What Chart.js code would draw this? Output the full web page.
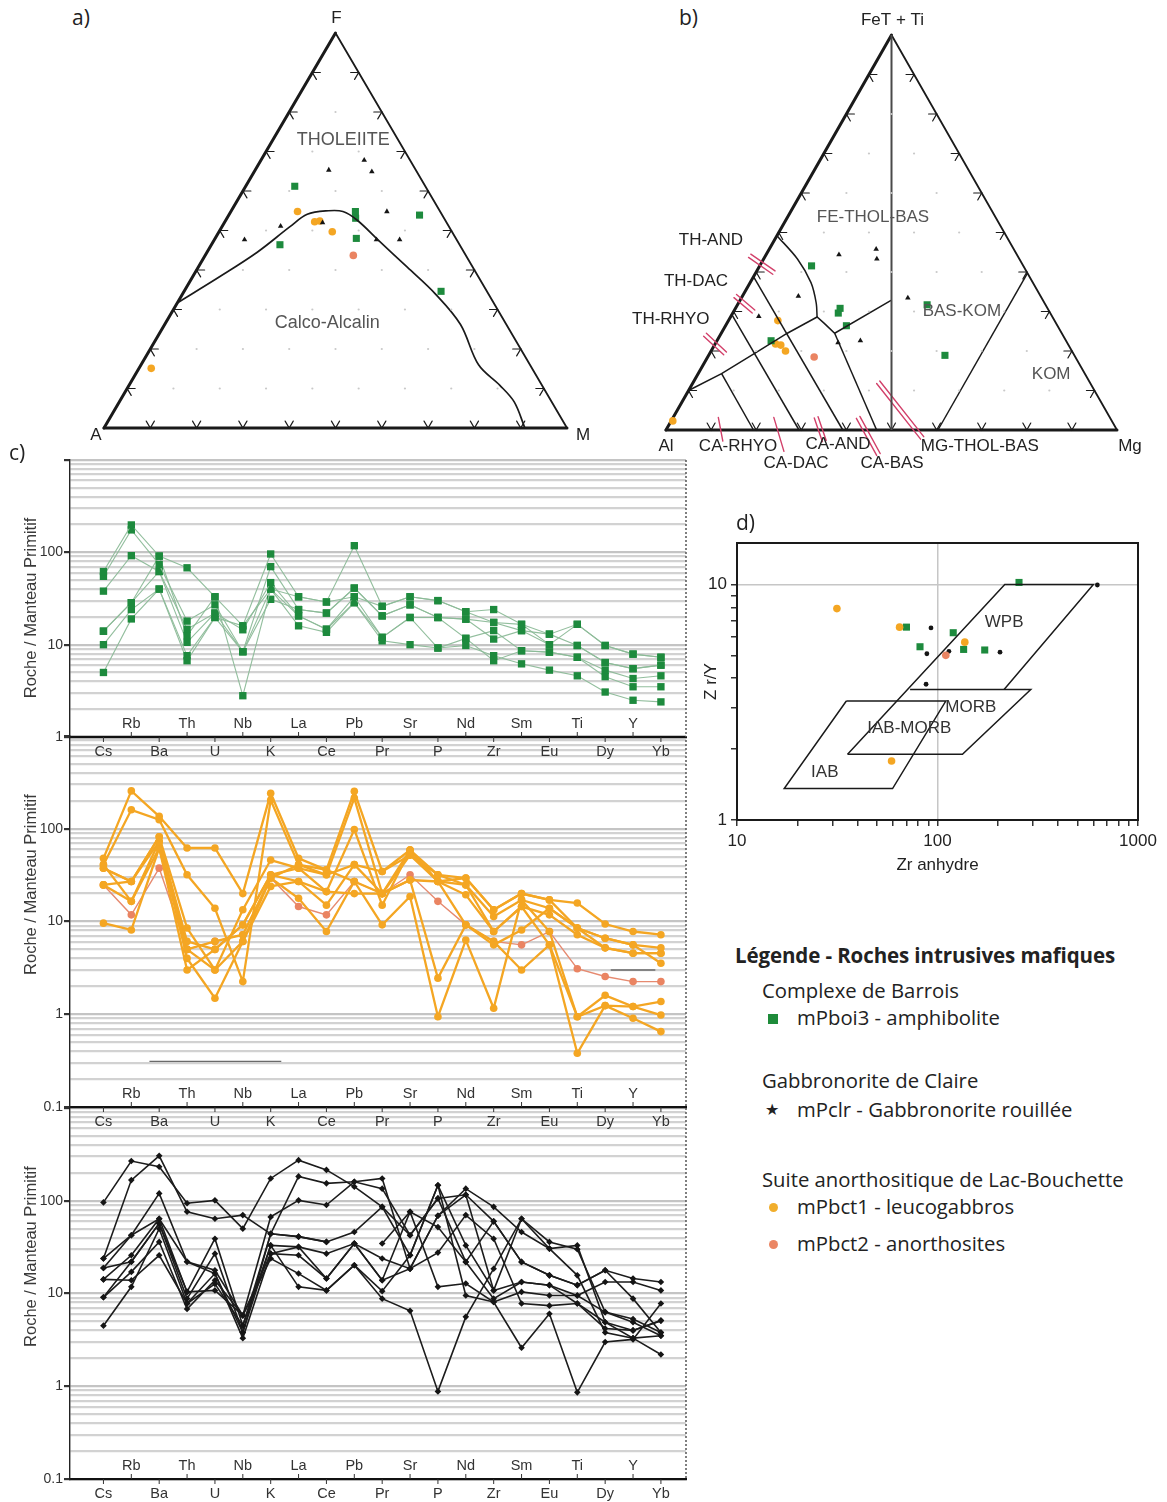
<!DOCTYPE html>
<html lang="fr">
<head>
<meta charset="utf-8">
<title>Roches intrusives mafiques – diagrammes géochimiques</title>
<script src="https://cdn.jsdelivr.net/npm/chart.js@4.4.1/dist/chart.umd.min.js"></script>
<style>
  html, body { margin: 0; padding: 0; background: #fff; }
  body { position: relative; width: 1167px; height: 1502px; overflow: hidden; }
  canvas { position: absolute; }
  .txt { position: absolute; white-space: nowrap; color: #222; font-family: "Open Sans", "Noto Sans", sans-serif; }
  .panel { font-size: 21px; line-height: 26px; }
  .leg-title { font-weight: 700; font-size: 20.5px; line-height: 26px; letter-spacing: -0.1px; }
  .leg { font-size: 20.3px; line-height: 26px; }
  .mk { position: absolute; }
</style>
</head>
<body>
<canvas id="spider3" width="700" height="414" style="left:0;top:1088px;z-index:1"></canvas>
<canvas id="spider2" width="700" height="424" style="left:0;top:716px;z-index:2"></canvas>
<canvas id="spider1" width="700" height="330" style="left:0;top:440px;z-index:3"></canvas>
<canvas id="afm" width="560" height="460" style="left:60px;top:0;z-index:4"></canvas>
<canvas id="jensen" width="547" height="480" style="left:620px;top:0;z-index:4"></canvas>
<canvas id="zry" width="477" height="380" style="left:690px;top:500px;z-index:4"></canvas>

<div class="txt panel" style="left:72px;top:4px">a)</div>
<div class="txt panel" style="left:679px;top:4px">b)</div>
<div class="txt panel" style="left:9px;top:439px;z-index:5">c)</div>
<div class="txt panel" style="left:736px;top:509px;z-index:5">d)</div>

<div class="txt leg-title" style="left:735px;top:942px">Légende - Roches intrusives mafiques</div>
<div class="txt leg" style="left:762px;top:977px">Complexe de Barrois</div>
<div class="mk" style="left:768px;top:1014px;width:10px;height:10px;background:#1e8b3a"></div>
<div class="txt leg" style="left:797px;top:1004px">mPboi3 - amphibolite</div>
<div class="txt leg" style="left:762px;top:1067px">Gabbronorite de Claire</div>
<div class="txt" style="left:765px;top:1099px;font-family:'DejaVu Sans';font-size:16px;line-height:22px">★</div>
<div class="txt leg" style="left:797px;top:1096px">mPclr - Gabbronorite rouillée</div>
<div class="txt leg" style="left:762px;top:1166px">Suite anorthositique de Lac-Bouchette</div>
<div class="mk" style="left:769px;top:1203px;width:9px;height:9px;border-radius:50%;background:#f1ae2c"></div>
<div class="txt leg" style="left:797px;top:1193px">mPbct1 - leucogabbros</div>
<div class="mk" style="left:769px;top:1240px;width:9px;height:9px;border-radius:50%;background:#eb8664"></div>
<div class="txt leg" style="left:797px;top:1230px">mPbct2 - anorthosites</div>

<script>
// ---------------------------------------------------------------
// Multi-element spider diagrams (rock / primitive mantle)
// ---------------------------------------------------------------
const ELEMENTS = ['Cs','Rb','Ba','Th','U','Nb','K','La','Ce','Pb','Pr','Sr','P','Nd','Zr','Sm','Eu','Ti','Dy','Y','Yb'];
const SPIDER_LABELS = [0.1, 1, 10, 100];

// mPboi3 - amphibolite (Complexe de Barrois)
const barroisSpider = [
  [62, 198, 91, 68, 33, 16, 96, 33, 29, 118, 26, 33, 30, 22.7, 24, 16.6, 13, 16.6, 9.8, 7.9, 7.3],
  [55, 175, 74, 18, 27, 8.4, 70, 24, 22, 41, 20.5, 27, 19.7, 18.9, 17.4, 14.2, 10, 9.8, 6.4, 5.5, 6.0],
  [38, 92, 62, 14.7, 22, 14.5, 47, 20.5, 14.7, 33, 12, 19.7, 19.7, 11.7, 14.2, 8.6, 8.3, 7.3, 5.3, 4.3, 4.6],
  [14, 28.5, 91, 12.5, 33, 2.8, 40, 16, 13.6, 28.5, 11, 10, 9.2, 9.8, 7.6, 6.2, 5.3, 4.6, 3.07, 2.5, 2.4],
  [10, 24, 40, 7.6, 19.7, 8.4, 31, 24, 22, 41, 20.5, 27, 19.7, 18.9, 11.5, 14.2, 13, 9.8, 6.4, 5.5, 6.0],
  [5, 19, 40, 6.7, 19.7, 16, 40, 33, 29, 33, 26, 33, 30, 22.7, 17.4, 16.6, 10, 16.6, 9.8, 7.9, 7.3],
  [14, 28.5, 62, 10.6, 22, 8.4, 40, 20.5, 14.7, 28.5, 12, 19.7, 9.2, 11.7, 6.7, 8.6, 8.3, 7.3, 4.5, 3.5, 3.5]
];

// mPbct1 - leucogabbros (Suite anorthositique de Lac-Bouchette)
const leucogabbroSpider = [
  [48, 256, 136, 62, 62, 20, 241, 48, 36, 253, 34.6, 59, 31.9, 29.4, 13.4, 20, 17.1, 15.8, 9.4, 7.8, 7.2],
  [41, 160, 125, 31.9, 13.9, 2.25, 204, 41, 31.9, 214, 20, 52, 27, 24.8, 11.3, 17.1, 13.9, 8.5, 6.6, 5.6, 5.2],
  [37.5, 27, 82, 8.5, 3.0, 13.4, 46, 37.6, 21, 98, 15, 59, 27, 19.4, 7.8, 14.5, 11.8, 7.2, 5.2, 4.55, 4.55],
  [24.8, 16.5, 73, 6.1, 5.0, 9.2, 31.9, 27, 15, 41, 20, 28, 2.45, 9.2, 5.6, 8.1, 13.9, 8.5, 6.6, 5.6, 3.55],
  [9.6, 8.1, 62, 5.0, 6.1, 7.2, 29.4, 17.8, 7.8, 27, 9.2, 18.6, 0.94, 6.3, 1.16, 17.1, 7.8, 0.94, 1.6, 1.21, 1.37],
  [24.8, 27, 73, 4.0, 1.49, 6.1, 23.9, 27, 21, 20, 20, 28, 27, 9.2, 6.1, 3.0, 5.6, 0.38, 1.24, 0.905, 0.65],
  [41, 16.5, 62, 3.0, 5.0, 9.2, 31.9, 37.6, 31.9, 41, 34.6, 52, 31.9, 24.8, 7.8, 14.5, 5.6, 0.94, 1.24, 1.21, 0.98],
  [37.5, 27, 82, 5.0, 3.0, 6.1, 29.4, 41, 36, 27, 20, 59, 27, 29.4, 13.4, 20, 17.1, 8.5, 5.2, 4.55, 4.55]
];

// mPbct2 - anorthosites
const anorthositeSpider = [
  [24.8, 11.8, 37.6, 5.0, 6.1, 7.2, 29.4, 14.5, 11.8, 27, 20, 31.9, 16.5, 9.2, 6.1, 5.6, 7.8, 3.1, 2.55, 2.25, 2.25]
];

// thin grey rules drawn across the leucogabbro panel (element index, value)
const leucoRules = [
  [[1.65, 0.31], [6.38, 0.31]],
  [[18.2, 3.0], [19.8, 3.0]]
];

// mPclr - Gabbronorite rouillée (Gabbronorite de Claire)
const claireSpider = [
  [96, 268, 233, 94, 101, 50, 174, 274, 215, 142, 86, 25.8, 147, 33, 10.8, 64, 36, 30, 6.3, 5.3, 3.8],
  [23.8, 167, 305, 76, 64, 70, 44, 183, 154, 160, 174, 18.5, 69, 135, 86, 46, 30.5, 33, 4.9, 3.3, 3.5],
  [18.8, 42.5, 120, 22, 17.8, 5.8, 67, 101, 90, 160, 135, 42.5, 106, 116, 60, 21.9, 15.7, 12.3, 17.8, 14.5, 13.3],
  [14.2, 25.8, 64, 10.4, 39, 4.5, 44, 41, 36, null, 34.6, 76, 52, 21.9, 8.8, 13.3, 12.3, 9.5, 13.3, 13.3, 10.8],
  [9.1, 22, 57, 8.8, 26.9, 3.8, 33, 31.8, 26.9, 34.6, 23.8, 18.5, 27.6, 70, 39, 7.8, 7.4, 7.8, 4.2, 4.0, 5.1],
  [4.5, 11.8, 50, 7.8, 16.4, 3.3, 26.9, 25.8, 14.5, 34.6, 13.9, 76, 11.8, 12.8, 8.1, 2.6, 6.05, 0.86, 3.0, 3.2, 7.8],
  [9.1, 17.1, 36, 6.8, 13.9, 5.8, 23.8, 16.4, 10.8, 20.2, 8.8, 6.5, 0.88, 5.6, 18.5, 64, 30.5, 15.7, 3.8, 3.3, 2.2],
  [14.2, 13.9, 25.8, 7.8, 12.7, 4.5, 33, 11.8, 10.8, 20.2, 10.6, 25.8, 147, 9.5, 8.1, 10.4, 9.5, 9.5, 6.3, 4.9, 3.5],
  [18.8, 22, 57, 10.4, 10.8, 5.8, 26.9, 31.8, 14.5, 34.6, 13.9, 18.5, 69, 116, 10.8, 13.3, 12.3, 7.8, 4.9, 4.0, 5.1],
  [23.8, 42.5, 64, 22, 16.4, 3.8, 44, 41, 36, 46, 86, 42.5, 106, 21.9, 60, 21.9, 15.7, 12.3, 17.8, 8.8, 3.8]
];

// ---------------------------------------------------------------
// AFM ternary (A, F, M in %)
// ---------------------------------------------------------------
const afmBarrois = [[28.2,61.2,10.6],[18.3,54.8,26.9],[19.1,53.1,27.8],[4.9,53.9,41.2],[21.5,48.0,30.5],[38.8,46.4,14.8],[9.9,34.6,55.5]];
const afmClaire = [[9.9,67.8,22.3],[18.8,65.3,15.9],[9.7,64.9,25.4],[11.5,54.8,33.7],[36.3,51.1,12.6],[45.8,47.7,6.5],[17.3,47.7,35.0],[12.3,47.7,40.0],[26.8,52.0,21.2]];
const afmLeuco = [[30.8,54.8,14.4],[28.4,52.2,19.4],[27.2,52.4,20.4],[25.85,49.7,24.45],[82.25,15.1,2.65]];
const afmAnor = [[24.3,43.7,32.0]];
const afmBoundary = [[68.3,31.7,0],[56.25,38.1,5.65],[44.65,44.5,10.85],[34.45,50.9,14.65],[29.05,54.1,16.85],[24.0,55.0,21.0],[21.0,54.8,24.2],[19.0,52.6,28.4],[16.95,47.5,35.55],[14.15,40.7,45.15],[11.45,33.9,54.65],[9.9,26.2,63.9],[11.1,16.0,72.9],[9.1,10.8,80.1],[8.1,6.6,85.3],[9.1,0,90.9]];

// ---------------------------------------------------------------
// Jensen cation plot (Al, FeT+Ti, Mg in %)
// ---------------------------------------------------------------
const jenBarrois = [[46.95,41.55,11.5],[47.0,29.6,23.4],[46.0,30.8,23.2],[46.8,26.4,26.8],[65.4,22.6,12.0],[26.25,31.7,42.05],[28.7,18.9,52.4]];
const jenClaire = [[39.45,44.4,16.15],[30.5,45.8,23.7],[31.6,43.3,25.1],[53.7,33.9,12.4],[65.05,28.75,6.2],[29.65,33.45,36.9],[45.6,22.6,31.8],[50.8,22.1,27.1]];
const jenLeuco = [[61.35,27.7,10.95],[64.8,21.8,13.4],[63.8,21.5,14.7],[63.5,20.0,16.5],[97.35,2.3,0.35]];
const jenAnor = [[57.9,18.5,23.6]];
const jenVertical = [[0,100,0],[50,0,50]];
const jenThCa = [[90,10,0],[80.55,14.25,5.2],[69.9,19.8,10.3],[60.85,24.5,14.65],[52.2,28.6,19.2],[51.4,27.0,21.6],[50.35,24.5,25.15],[33.7,32.8,33.5]];
const jenFeThol = [[50.8,49.2,0],[49.2,43.3,7.5],[49.2,37.3,13.5],[50.6,32.2,17.2],[52.2,28.6,19.2]];
const jenAnd = [[61.2,38.8,0],[60.8,0,39.2]];
const jenDac = [[70.8,29.2,0],[70.5,0,29.5]];
const jenRhyo = [[80.55,14.25,5.2],[80.6,0,19.4]];
const jenBas = [[50.35,24.5,25.15],[53.3,0,46.7]];
const jenKom = [[39.7,0,60.3],[0,39.7,60.3]];
// red leader strokes next to the field names: [start, end, strokes]
const jenLeaders = [
  [[59.4,44.1,-3.5],[56.15,39.85,4.0],2],
  [[67.7,33.9,-1.6],[65.6,30.0,4.4],2],
  [[79.3,24.1,-3.4],[77.2,19.4,3.4],2],
  [[86.8,3.2,10.0],[88.8,-2.8,14.0],1],
  [[74.5,3.2,22.3],[76.55,-5.4,28.85],1],
  [[65.1,3.2,31.7],[66.3,-2.8,36.5],2],
  [[55.8,3.2,41.0],[56.0,-6.2,50.2],2],
  [[46.9,12.1,41.0],[44.2,-2.0,57.8],2]
];

// ---------------------------------------------------------------
// Zr/Y vs Zr (anhydrous)
// ---------------------------------------------------------------
const zrBarrois = [[70,6.59],[119.8,6.24],[81.8,5.44],[135,5.3],[172,5.27],[255,10.2]];
const zrClaire = [[92.8,6.54],[88.5,5.08],[205,5.16],[87.7,3.77],[627,9.95],[114,5.2]];
const zrLeuco = [[31.5,7.9],[64.7,6.59],[136.8,5.69],[59,1.78]];
const zrAnor = [[110,5.0]];
const fieldWPB = [[35.6,1.90],[216.5,10],[599,10],[214.8,3.58]];
const fieldMORB = [[73,3.58],[291.8,3.58],[133.2,1.90],[35.6,1.90]];
const fieldIAB = [[35.1,3.2],[110,3.2],[59.7,1.36],[17.2,1.36],[35.1,3.2]];

// ---------------------------------------------------------------
Chart.defaults.font.family = '"Liberation Sans", Arial, sans-serif';
Chart.defaults.color = '#333';

const STYLE = {
  barrois: { color: '#1d8a3d' },
  claire:  { color: '#151515' },
  leuco:   { color: '#f4a623' },
  anor:    { color: '#ea8462' }
};

function decadeTicks(min, max) {
  const out = [];
  for (let e = Math.floor(Math.log10(min)); e <= Math.ceil(Math.log10(max)); e++) {
    for (let m = 1; m < 10; m++) {
      const v = Number((m * Math.pow(10, e)).toPrecision(6));
      if (v >= min * 0.999 && v <= max * 1.001) out.push(v);
    }
  }
  return out;
}
const isDecade = v => Math.abs(Math.log10(v) - Math.round(Math.log10(v))) < 1e-6;

// element names in two staggered rows, small ticks, dashed right frame, axis title
const spiderDecor = {
  id: 'spiderDecor',
  afterDraw(chart, args, o) {
    const { ctx, chartArea: { top, bottom, right }, scales: { x, y } } = chart;
    ctx.save();
    ctx.strokeStyle = '#555';
    ctx.lineWidth = 1.5;
    ctx.setLineDash([2, 2]);
    ctx.beginPath(); ctx.moveTo(right, top); ctx.lineTo(right, bottom); ctx.stroke();
    ctx.setLineDash([]);
    ctx.font = '14.5px "Liberation Sans", Arial, sans-serif';
    ctx.textAlign = 'center';
    ctx.textBaseline = 'middle';
    ELEMENTS.forEach((el, i) => {
      const px = x.getPixelForValue(i);
      const upper = i % 2 === 1;
      ctx.strokeStyle = '#333';
      ctx.lineWidth = 1;
      ctx.beginPath(); ctx.moveTo(px, bottom); ctx.lineTo(px, bottom + (upper ? -5 : 5)); ctx.stroke();
      ctx.fillStyle = '#333';
      ctx.fillText(el, px, upper ? bottom - 13 : bottom + 15);
    });
    ctx.translate(o.titleX, y.getPixelForValue(o.titleAt));
    ctx.rotate(-Math.PI / 2);
    ctx.font = '16.5px "Liberation Sans", Arial, sans-serif';
    ctx.fillStyle = '#3a3a3a';
    ctx.fillText(o.title, 0, 0);
    ctx.restore();
  }
};

function spider(id, opt) {
  const datasets = [];
  opt.groups.forEach(g => g.samples.forEach(vals => datasets.push({
    data: vals.map((v, i) => ({ x: i, y: v })),
    showLine: true, spanGaps: false, clip: false,
    borderColor: g.line, borderWidth: g.lineWidth,
    pointStyle: g.pointStyle, pointRadius: g.radius,
    pointBackgroundColor: g.color, pointBorderColor: g.color, pointBorderWidth: 0
  })));
  (opt.rules || []).forEach(r => datasets.push({
    data: r.map(([xv, yv]) => ({ x: xv, y: yv })),
    showLine: true, borderColor: '#6a6a6a', borderWidth: 1.3, pointRadius: 0, clip: false
  }));
  return new Chart(document.getElementById(id), {
    type: 'scatter',
    data: { datasets },
    options: {
      responsive: false, animation: false, events: [],
      layout: { padding: { top: 20, right: 14, left: 0, bottom: 0 }, autoPadding: false },
      plugins: {
        legend: { display: false }, tooltip: { enabled: false },
        spiderDecor: { title: 'Roche / Manteau Primitif', titleAt: 25, titleX: 31 }
      },
      scales: {
        x: {
          type: 'linear', min: -1.2, max: 20.9,
          afterBuildTicks: s => { s.ticks = ELEMENTS.map((_, i) => ({ value: i })); },
          afterFit: s => { s.height = opt.xHeight; },
          ticks: { display: false },
          grid: { display: false },
          border: { color: '#111', width: 2.2 }
        },
        y: {
          type: 'logarithmic', min: opt.min, max: opt.max,
          afterBuildTicks: s => { s.ticks = decadeTicks(opt.min, opt.max).map(v => ({ value: v })); },
          afterFit: s => { s.width = 70; },
          border: { color: '#222', width: 1.4 },
          grid: {
            color: c => (c.tick && isDecade(c.tick.value)) ? '#c4c4c4' : '#d2d2d2',
            lineWidth: 2.2, tickLength: 6,
            tickColor: c => (c.tick && isDecade(c.tick.value)) ? '#333' : 'rgba(0,0,0,0)'
          },
          ticks: {
            autoSkip: false, padding: 1, color: '#333', font: { size: 14 },
            callback: v => SPIDER_LABELS.includes(v) ? String(v) : ''
          }
        }
      }
    },
    plugins: [spiderDecor]
  });
}

spider('spider1', {
  min: 1, max: 1000, xHeight: 33,
  groups: [{ samples: barroisSpider, line: 'rgba(140,186,152,0.95)', lineWidth: 1.1, pointStyle: 'rect', radius: 5.2, color: STYLE.barrois.color }]
});
spider('spider2', {
  min: 0.1, max: 1000, xHeight: 33,
  groups: [
    { samples: leucogabbroSpider, line: STYLE.leuco.color, lineWidth: 2.3, pointStyle: 'circle', radius: 3.8, color: STYLE.leuco.color },
    { samples: anorthositeSpider, line: '#e68a70', lineWidth: 1.4, pointStyle: 'circle', radius: 3.8, color: STYLE.anor.color }
  ],
  rules: leucoRules
});
spider('spider3', {
  min: 0.1, max: 1000, xHeight: 23,
  groups: [{ samples: claireSpider, line: '#1c1c1c', lineWidth: 1.6, pointStyle: 'rectRot', radius: 3.3, color: STYLE.claire.color }]
});

// ---------------------------------------------------------------
// Ternary diagrams
// ---------------------------------------------------------------
// [left, top, right] percentages -> unit-triangle coordinates
const toXY = p => ({ x: (p[2] + p[1] / 2) / 100, y: p[1] / 100 });

const LATTICE = [];
for (let t = 10; t <= 80; t += 10) {
  for (let r = 10; r <= 90 - t; r += 10) LATTICE.push([100 - t - r, t, r]);
}

const ternDecor = {
  id: 'ternDecor',
  beforeDatasetsDraw(chart, args, o) {
    const { ctx, scales: { x, y } } = chart;
    const P = (u, v) => [x.getPixelForValue(u), y.getPixelForValue(v)];
    const L = P(0, 0), R = P(1, 0), T = P(0.5, 1);
    ctx.save();
    ctx.lineCap = 'round';
    ctx.strokeStyle = '#1a1a1a';
    const edge = (a, b, w) => { ctx.lineWidth = w; ctx.beginPath(); ctx.moveTo(a[0], a[1]); ctx.lineTo(b[0], b[1]); ctx.stroke(); };
    edge(L, T, o.thick); edge(L, R, o.thick); edge(R, T, o.thin);
    // chevron ticks every 10 %
    const unit = (dx, dy) => { const n = Math.hypot(dx, dy); return [dx / n, dy / n]; };
    ctx.lineWidth = 1.2;
    const len = 8;
    [[L, T, R], [L, R, T], [R, T, L]].forEach(([p0, p1, q]) => {
      const d1 = unit(q[0] - p0[0], q[1] - p0[1]);
      const d2 = unit(q[0] - p1[0], q[1] - p1[1]);
      for (let k = 1; k < 10; k++) {
        const px = p0[0] + (p1[0] - p0[0]) * k / 10;
        const py = p0[1] + (p1[1] - p0[1]) * k / 10;
        ctx.beginPath();
        ctx.moveTo(px + d1[0] * len, py + d1[1] * len);
        ctx.lineTo(px, py);
        ctx.lineTo(px + d2[0] * len, py + d2[1] * len);
        ctx.stroke();
      }
    });
    // red leader strokes
    ctx.strokeStyle = '#d2406a';
    ctx.lineWidth = 1.4;
    (o.leaders || []).forEach(([a, b, n]) => {
      const pa = toXY(a), pb = toXY(b);
      const ax = x.getPixelForValue(pa.x), ay = y.getPixelForValue(pa.y);
      const bx = x.getPixelForValue(pb.x), by = y.getPixelForValue(pb.y);
      const [ux, uy] = unit(bx - ax, by - ay);
      const offs = n === 2 ? [-2, 2] : [0];
      offs.forEach(s => {
        ctx.beginPath();
        ctx.moveTo(ax - uy * s, ay + ux * s);
        ctx.lineTo(bx - uy * s, by + ux * s);
        ctx.stroke();
      });
    });
    ctx.restore();
  },
  afterDraw(chart, args, o) {
    const { ctx, scales: { x, y } } = chart;
    ctx.save();
    ctx.textAlign = 'center';
    ctx.textBaseline = 'middle';
    (o.labels || []).forEach(l => {
      const p = toXY(l.at);
      ctx.font = l.size + 'px "Liberation Sans", Arial, sans-serif';
      ctx.fillStyle = l.color;
      ctx.fillText(l.text, x.getPixelForValue(p.x), y.getPixelForValue(p.y));
    });
    const corners = { L: [0, 0], R: [1, 0], T: [0.5, 1] };
    (o.vertices || []).forEach(v => {
      const c = corners[v.at];
      ctx.font = '17px "Liberation Sans", Arial, sans-serif';
      ctx.fillStyle = '#222';
      ctx.fillText(v.text, x.getPixelForValue(c[0]) + v.dx, y.getPixelForValue(c[1]) + v.dy);
    });
    ctx.restore();
  }
};

function ternary(id, pad, lines, series, decor) {
  const datasets = [{
    data: LATTICE.map(toXY), pointRadius: 1.1, pointBackgroundColor: '#c9c9c9', pointBorderWidth: 0, clip: false
  }];
  lines.forEach(l => datasets.push({
    data: l.pts.map(toXY), showLine: true, borderColor: l.color || '#1a1a1a', borderWidth: l.width || 1.5,
    pointRadius: 0, tension: l.tension || 0, clip: false
  }));
  series.forEach(s => datasets.push({
    data: s.pts.map(toXY), pointStyle: s.style, pointRadius: s.r,
    pointBackgroundColor: s.color, pointBorderColor: s.color, pointBorderWidth: 0, clip: false
  }));
  return new Chart(document.getElementById(id), {
    type: 'scatter',
    data: { datasets },
    options: {
      responsive: false, animation: false, events: [],
      layout: { padding: pad, autoPadding: false },
      scales: {
        x: { type: 'linear', min: 0, max: 1, display: false },
        y: { type: 'linear', min: 0, max: 1, display: false }
      },
      plugins: { legend: { display: false }, tooltip: { enabled: false }, ternDecor: decor }
    },
    plugins: [ternDecor]
  });
}

const markerSets = (barrois, claire, leuco, anor) => [
  { pts: barrois, style: 'rect', r: 5, color: STYLE.barrois.color },
  { pts: claire, style: 'triangle', r: 3.2, color: STYLE.claire.color },
  { pts: leuco, style: 'circle', r: 3.8, color: STYLE.leuco.color },
  { pts: anor, style: 'circle', r: 3.8, color: STYLE.anor.color }
];

ternary('afm', { left: 44, right: 53, top: 33, bottom: 32 },
  [{ pts: afmBoundary, width: 1.7, tension: 0.35 }],
  markerSets(afmBarrois, afmClaire, afmLeuco, afmAnor),
  {
    thick: 3, thin: 1.8,
    labels: [
      { text: 'THOLEIITE', at: [11.9, 72.9, 15.2], size: 18, color: '#555' },
      { text: 'Calco-Alcalin', at: [38.5, 26.6, 34.9], size: 18, color: '#555' }
    ],
    vertices: [
      { text: 'A', at: 'L', dx: -8, dy: 7 },
      { text: 'M', at: 'R', dx: 16, dy: 7 },
      { text: 'F', at: 'T', dx: 1, dy: -15 }
    ]
  });

ternary('jensen', { left: 46, right: 50, top: 35, bottom: 50 },
  [
    { pts: jenVertical, color: '#4a4a4a', width: 2 },
    { pts: jenThCa }, { pts: jenFeThol, tension: 0.3 },
    { pts: jenAnd }, { pts: jenDac }, { pts: jenRhyo }, { pts: jenBas }, { pts: jenKom }
  ],
  markerSets(jenBarrois, jenClaire, jenLeuco, jenAnor),
  {
    thick: 3, thin: 1.8, leaders: jenLeaders,
    labels: [
      { text: 'FE-THOL-BAS', at: [27.15, 53.9, 18.95], size: 17, color: '#555' },
      { text: 'TH-AND', at: [66.0, 48.1, -14.1], size: 17, color: '#222' },
      { text: 'TH-DAC', at: [74.5, 37.7, -12.2], size: 17, color: '#222' },
      { text: 'TH-RHYO', at: [84.9, 28.1, -13.0], size: 17, color: '#222' },
      { text: 'BAS-KOM', at: [19.35, 30.1, 50.55], size: 17, color: '#555' },
      { text: 'KOM', at: [7.5, 14.2, 78.3], size: 17, color: '#555' },
      { text: 'CA-RHYO', at: [86.05, -4.05, 18.0], size: 17, color: '#222' },
      { text: 'CA-DAC', at: [75.35, -8.35, 33.0], size: 17, color: '#222' },
      { text: 'CA-AND', at: [63.6, -3.54, 39.9], size: 17, color: '#222' },
      { text: 'CA-BAS', at: [54.05, -8.35, 54.3], size: 17, color: '#222' },
      { text: 'MG-THOL-BAS', at: [32.4, -4.05, 71.6], size: 17, color: '#222' }
    ],
    vertices: [
      { text: 'Al', at: 'L', dx: 0, dy: 16 },
      { text: 'Mg', at: 'R', dx: 13, dy: 16 },
      { text: 'FeT + Ti', at: 'T', dx: 1, dy: -15 }
    ]
  });

// ---------------------------------------------------------------
// Zr/Y – Zr discrimination plot
// ---------------------------------------------------------------
const FIELD_LABELS = [
  { text: 'WPB', at: [215, 6.9] },
  { text: 'MORB', at: [146.6, 3.0] },
  { text: 'IAB-MORB', at: [72.3, 2.44] },
  { text: 'IAB', at: [27.4, 1.6] }
];

const zrDecor = {
  id: 'zrDecor',
  afterDraw(chart, args, o) {
    const { ctx, chartArea: { left, top, right, bottom }, scales: { x, y } } = chart;
    ctx.save();
    ctx.strokeStyle = '#1a1a1a';
    ctx.lineWidth = 2;
    ctx.strokeRect(left, top, right - left, bottom - top);
    ctx.font = '17px "Liberation Sans", Arial, sans-serif';
    ctx.fillStyle = '#333';
    ctx.textAlign = 'center';
    ctx.textBaseline = 'middle';
    o.labels.forEach(l => ctx.fillText(l.text, x.getPixelForValue(l.at[0]), y.getPixelForValue(l.at[1])));
    ctx.restore();
  }
};

const fieldDS = pts => ({ data: pts.map(([a, b]) => ({ x: a, y: b })), showLine: true, borderColor: '#1a1a1a', borderWidth: 1.5, pointRadius: 0, clip: false });
const pointDS = (pts, style, r, color) => ({ data: pts.map(([a, b]) => ({ x: a, y: b })), pointStyle: style, pointRadius: r, pointBackgroundColor: color, pointBorderColor: color, pointBorderWidth: 0, clip: false });

new Chart(document.getElementById('zry'), {
  type: 'scatter',
  data: {
    datasets: [
      fieldDS(fieldWPB), fieldDS(fieldMORB), fieldDS(fieldIAB),
      pointDS(zrLeuco, 'circle', 3.8, STYLE.leuco.color),
      pointDS(zrAnor, 'circle', 3.8, STYLE.anor.color),
      pointDS(zrBarrois, 'rect', 5, STYLE.barrois.color),
      pointDS(zrClaire, 'circle', 2.4, STYLE.claire.color)
    ]
  },
  options: {
    responsive: false, animation: false, events: [],
    layout: { padding: { top: 43, right: 29, left: 0, bottom: 0 }, autoPadding: false },
    plugins: { legend: { display: false }, tooltip: { enabled: false }, zrDecor: { labels: FIELD_LABELS } },
    scales: {
      x: {
        type: 'logarithmic', min: 10, max: 1000,
        afterBuildTicks: s => { s.ticks = decadeTicks(10, 1000).map(v => ({ value: v })); },
        afterFit: s => { s.height = 60; },
        border: { display: false },
        grid: { color: c => (c.tick && c.tick.value === 100) ? '#c6c6c6' : 'rgba(0,0,0,0)', lineWidth: 1.5, tickLength: 6, tickColor: '#333' },
        ticks: { autoSkip: false, maxRotation: 0, padding: 5, color: '#222', font: { size: 17 }, callback: v => [10, 100, 1000].includes(v) ? String(v) : '' },
        title: { display: true, text: 'Zr anhydre', color: '#222', font: { size: 17 }, padding: { top: 0, bottom: 4 } }
      },
      y: {
        type: 'logarithmic', min: 1, max: 15,
        afterBuildTicks: s => { s.ticks = decadeTicks(1, 10).map(v => ({ value: v })); },
        afterFit: s => { s.width = 47; },
        border: { display: false },
        grid: { color: c => (c.tick && c.tick.value === 10) ? '#c6c6c6' : 'rgba(0,0,0,0)', lineWidth: 1.5, tickLength: 6, tickColor: '#333' },
        ticks: { autoSkip: false, padding: 4, color: '#222', font: { size: 17 }, callback: v => [1, 10].includes(v) ? String(v) : '' },
        title: { display: true, text: 'Z r/Y', color: '#222', font: { size: 17 }, padding: { top: 11, bottom: 0 } }
      }
    }
  },
  plugins: [zrDecor]
});
</script>
</body>
</html>
